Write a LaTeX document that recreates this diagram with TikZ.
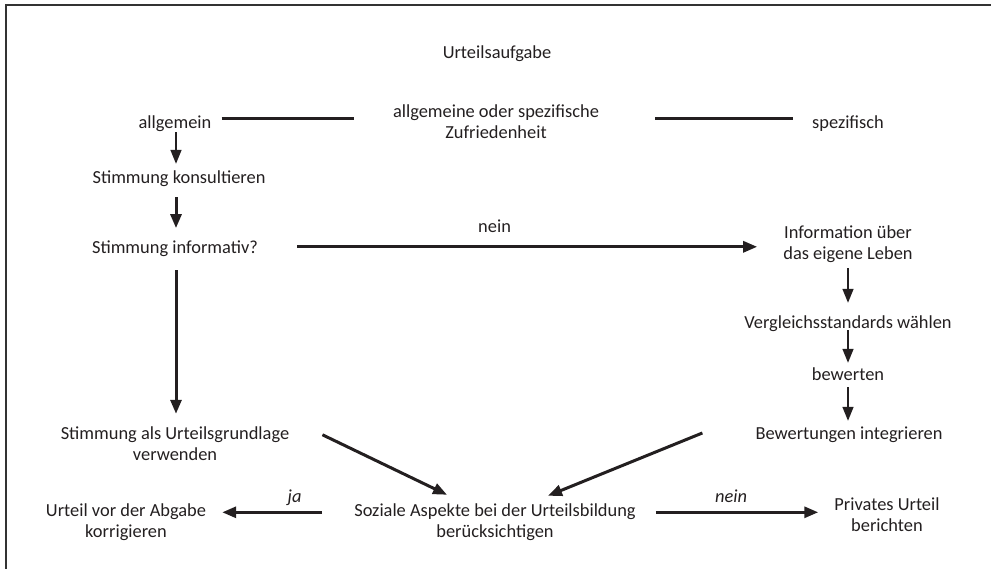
\documentclass[tikz,border=0pt]{standalone}
\usepackage{fontspec}
\setmainfont{Carlito}
\usetikzlibrary{arrows.meta}
\definecolor{ink}{HTML}{231F20}

\begin{document}
\begin{tikzpicture}[x=1pt,y=-1pt]
\tikzstyle{every node}+=[inner sep=2pt, text=ink, font=\fontsize{18.4}{21}\selectfont]
\tikzstyle{lbl}=[execute at begin node=\strut, execute at end node=\strut]
\tikzstyle{lbltwo}=[lbl, align=center]
\tikzstyle{answer}=[lbl, font=\fontsize{18.4}{21}\selectfont\itshape]
\tikzstyle{thinarrow}=[draw=ink, line width=1.5pt, -{Triangle[length=14pt,width=11pt]}]
\tikzstyle{thickarrow}=[draw=ink, line width=3pt, -{Triangle[length=14pt,width=11pt]}]
\tikzstyle{thickline}=[draw=ink, line width=3pt]
\clip (0,0) rectangle (991,569);
\useasboundingbox (0,0) rectangle (991,569);
\draw [gray!40!black, line width=1.5pt] (6,5) rectangle (1010,590);
\node [lbl] (task) at (497,54.5) {Urteilsaufgabe};
\node [lbl] (allg) at (175,124.5) {allgemein};
\node [lbltwo] (zuf) at (496,124.7) {allgemeine oder spezifische\\Zufriedenheit};
\node [lbl] (spez) at (848,124.5) {spezifisch};
\node [lbl] (konsult) at (179,179.5) {Stimmung konsultieren};
\node [lbl] (informativ) at (175,249.8) {Stimmung informativ?};
\node [lbltwo] (info) at (848,246) {Information über\\das eigene Leben};
\node [lbl] (vergl) at (848,324.5) {Vergleichsstandards wählen};
\node [lbl] (bew) at (848,376.5) {bewerten};
\node [lbl] (integ) at (849,435.5) {Bewertungen integrieren};
\node [lbltwo] (grundlage) at (175,447) {Stimmung als Urteilsgrundlage\\verwenden};
\node [lbltwo] (sozial) at (495,523.6) {Soziale Aspekte bei der Urteilsbildung\\berücksichtigen};
\node [lbltwo] (korr) at (126,524) {Urteil vor der Abgabe\\korrigieren};
\node [lbltwo] (privat) at (887,518) {Privates Urteil\\berichten};
\draw [thickline, shorten <=8pt, shorten >=37pt] ([yshift=5.5pt]allg.east) -- ([yshift=5.5pt]allg.east -| zuf.west);
\draw [thickline, shorten <=54pt, shorten >=17pt] ([yshift=5.5pt]zuf.east |- spez.west) -- ([yshift=5.5pt]spez.west);
\draw [thinarrow, shorten <=-5pt, shorten >=3pt] ([xshift=1pt]allg.south) -- ([xshift=1pt]allg.south |- konsult.north);
\draw [thickarrow, shorten <=5pt, shorten >=9pt] ([xshift=-3pt]konsult.south) -- ([xshift=-3pt]konsult.south |- informativ.north);
\draw [thickarrow, shorten <=37pt, shorten >=24pt] ([yshift=3pt]informativ.east) -- ([yshift=3pt]informativ.east -| info.west) node [lbl, pos=0.45, yshift=18pt] {nein};
\draw [thickarrow, shorten <=8pt, shorten >=11pt] ([xshift=1pt]informativ.south) -- ([xshift=1pt]informativ.south |- grundlage.north);
\draw [thinarrow, shorten >=9pt] (info.south) -- (info.south |- vergl.north);
\draw [thinarrow, shorten <=-7pt, shorten >=1pt] (vergl.south) -- (vergl.south |- bew.north);
\draw [thinarrow, shorten <=-2pt, shorten >=2pt] (bew.south) -- (bew.south |- integ.north);
\draw [thickarrow] ([shift={(31,10)}]grundlage.north east) -- ([shift={(-48,-6.6)}]sozial.north);
\draw [thickarrow] ([shift={(-51,-2.5)}]integ.west) -- ([shift={(53,-5.6)}]sozial.north);
\draw [thickarrow, shorten <=30pt, shorten >=14pt] ([yshift=11.3pt]sozial.west) -- ([yshift=11.3pt]sozial.west -| korr.east) node [answer, pos=0.4, yshift=14.2pt] {ja};
\draw [thickarrow, shorten <=18pt, shorten >=14pt] ([yshift=11.3pt]sozial.east) -- ([yshift=11.3pt]sozial.east -| privat.west) node [answer, pos=0.48, yshift=14.5pt] {nein};
\end{tikzpicture}
\end{document}
